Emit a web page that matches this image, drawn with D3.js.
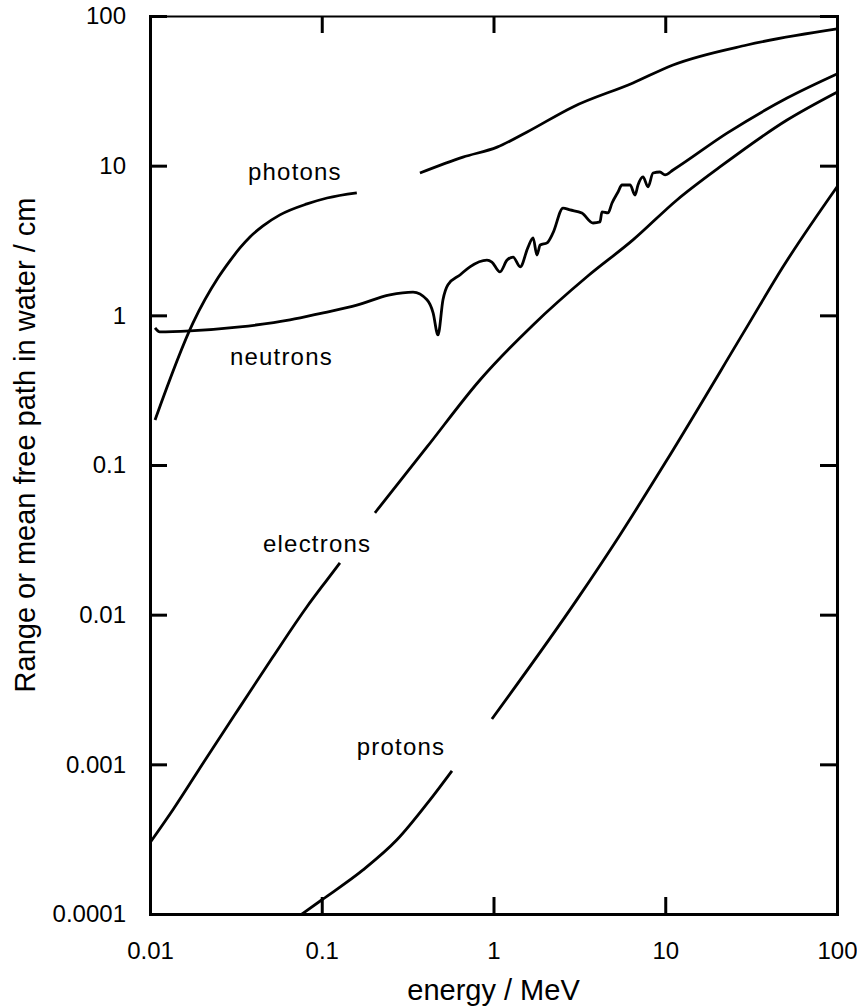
<!DOCTYPE html>
<html><head><meta charset="utf-8">
<script src="https://cdn.jsdelivr.net/npm/d3@7"></script>
<style>
body{margin:0;background:#fff}
svg{display:block}
text{font-family:"Liberation Sans",Arial,Helvetica,sans-serif;fill:#000}
</style>
</head><body>
<svg id="chart" width="857" height="1008"></svg>
<script>
// ---- data (energy in MeV, range / mean free path in cm); null = gap in curve ----
const xTicks = [0.01, 0.1, 1, 10, 100];
const xTickLabels = ["0.01", "0.1", "1", "10", "100"];
const yTicks = [100, 10, 1, 0.1, 0.01, 0.001, 0.0001];
const yTickLabels = ["100", "10", "1", "0.1", "0.01", "0.001", "0.0001"];

const photons = [
  [0.0107,0.20],[0.0178,0.89],[0.0249,1.78],[0.0292,2.31],[0.0334,2.82],[0.0382,3.34],
  [0.0455,3.96],[0.0571,4.69],[0.0820,5.55],[0.1074,6.08],[0.16,6.58],
  null,
  [0.373,8.93],[0.664,11.4],[1.05,13.3],[1.57,16.8],[2.90,24.7],[6.49,35.7],
  [11.1,47.1],[29.9,64],[100,81.9]
];

const neutrons = [
  [0.0107,0.824],[0.0114,0.775],[0.0171,0.787],[0.0334,0.837],[0.0653,0.931],[0.102,1.04],
  [0.160,1.17],[0.249,1.37],[0.340,1.43],[0.410,1.27],[0.445,1.04],[0.475,0.74],[0.508,1.27],
  [0.543,1.60],[0.638,1.86],[0.729,2.11],[0.916,2.34],[0.979,2.27],[1.09,1.95],[1.20,2.34],
  [1.30,2.45],[1.43,2.11],[1.59,2.86],[1.70,3.29],[1.79,2.53],[1.87,2.95],[2.05,3.05],
  [2.22,3.55],[2.54,5.21],[2.79,5.06],[3.27,4.83],[3.80,4.14],[4.17,4.21],[4.28,4.91],
  [4.64,4.83],[4.90,5.63],[5.31,6.67],[5.60,7.43],[6.24,7.43],[6.67,6.37],[6.94,7.43],
  [7.42,8.41],[7.94,7.21],[8.49,8.93],[9.31,9.07],[9.97,8.67],[11.1,9.36],[22.9,16.5],
  [51.2,28.3],[100,41.0]
];

const electrons = [
  [0.01,2.99e-4],[0.0136,4.97e-4],[0.0215,1.12e-3],[0.0334,2.42e-3],
  [0.0520,5.23e-3],[0.0820,1.13e-2],[0.1074,1.71e-2],[0.1276,2.22e-2],
  null,
  [0.204,4.79e-2],[0.410,0.132],[0.834,0.370],[1.70,0.863],[3.50,1.81],
  [6.49,3.19],[11.7,5.90],[20.8,9.80],[51.2,20.2],[100,31.0]
];

const protons = [
  [0.0767,1e-4],[0.1003,1.245e-4],[0.174,1.97e-4],[0.274,3.13e-4],[0.427,5.79e-4],[0.573,9.05e-4],
  null,
  [0.979,2.01e-3],[3.06,1.26e-2],[5.45,3.41e-2],[9.97,0.103],
  [29.9,0.837],[48.5,2.11],[100,7.21]
];

const curveLabels = ["photons", "neutrons", "electrons", "protons"];
const labelE = [0.0372, 0.0292, 0.0455, 0.160];
const labelR = [8.03, 0.467, 0.0263, 0.001156];

// ---- drawing ----
const svg = d3.select("#chart");
const x = d3.scaleLog().domain([0.01, 100]).range([150, 837]);
const y = d3.scaleLog().domain([0.0001, 100]).range([914, 16]);

function styleAxis(g, w) {
  g.select(".domain").attr("stroke", "#000").attr("stroke-width", w).attr("stroke-linecap", "square");
  g.selectAll(".tick line").attr("stroke", "#000").attr("stroke-width", 3);
  g.selectAll(".tick text").attr("font-family", '"Liberation Sans", Arial, sans-serif')
    .attr("font-size", 24).attr("fill", "#000");
  g.attr("font-family", null).attr("font-size", null);
}

const series = [photons, neutrons, electrons, protons];

series.forEach(data => {
  const line = d3.line()
    .defined(d => d !== null)
    .x(d => x(d[0])).y(d => y(d[1]))
    .curve(d3.curveMonotoneX);
  svg.append("path").datum(data)
    .attr("d", line)
    .attr("fill", "none").attr("stroke", "#000")
    .attr("stroke-width", 2.8).attr("stroke-linejoin", "round");
});

// axes (ticks inward on all four sides)
svg.append("g").attr("transform", "translate(0,914)")
  .call(d3.axisBottom(x).tickValues(xTicks).tickFormat((d, i) => xTickLabels[i])
    .tickSizeInner(-17).tickSizeOuter(0).tickPadding(28))
  .call(g => styleAxis(g, 3));

svg.append("g").attr("transform", "translate(0,16)")
  .call(d3.axisTop(x).tickValues(xTicks).tickFormat("").tickSizeInner(-17).tickSizeOuter(0))
  .call(g => styleAxis(g, 2));

svg.append("g").attr("transform", "translate(150,0)")
  .call(d3.axisLeft(y).tickValues(yTicks).tickFormat((d, i) => yTickLabels[i])
    .tickSizeInner(-17).tickSizeOuter(0).tickPadding(24))
  .call(g => styleAxis(g, 3));

svg.append("g").attr("transform", "translate(837,0)")
  .call(d3.axisRight(y).tickValues(yTicks).tickFormat("").tickSizeInner(-17).tickSizeOuter(0))
  .call(g => styleAxis(g, 3));

// curve labels
svg.selectAll("text.clabel").data(curveLabels).enter().append("text")
  .attr("class", "clabel")
  .attr("x", (d, i) => x(labelE[i])).attr("y", (d, i) => y(labelR[i]))
  .attr("font-size", 24).attr("letter-spacing", 1.2)
  .text(d => d);

// axis titles
svg.append("text").attr("x", (x(0.01) + x(100)) / 2).attr("y", 1000)
  .attr("text-anchor", "middle").attr("font-size", 29).text("energy / MeV");
svg.append("text").attr("transform", "translate(35,445) rotate(-90)")
  .attr("text-anchor", "middle").attr("font-size", 29).text("Range or mean free path in water / cm");
</script>
</body></html>
